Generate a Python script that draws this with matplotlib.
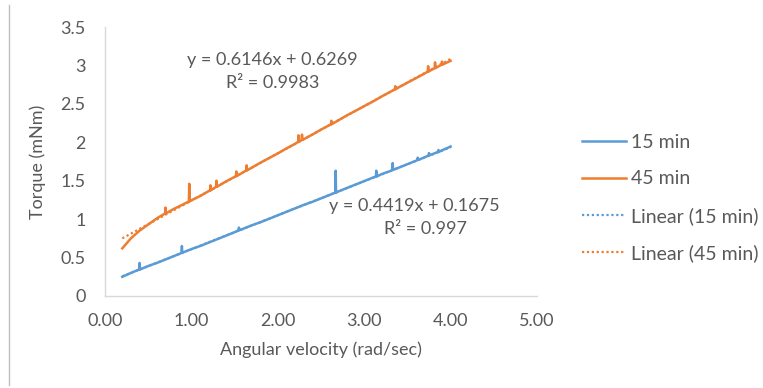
import matplotlib
matplotlib.use("Agg")
import matplotlib.pyplot as plt
from matplotlib.lines import Line2D

# ---- data -------------------------------------------------------------
omega = [0.2, 0.3, 0.4, 0.5, 0.6, 0.7, 0.8, 0.9, 1.0, 1.1, 1.2, 1.3, 1.4,
         1.5, 1.6, 1.7, 1.8, 1.9, 2.0, 2.1, 2.2, 2.3, 2.4, 2.5, 2.6, 2.7,
         2.8, 2.9, 3.0, 3.1, 3.2, 3.3, 3.4, 3.5, 3.6, 3.7, 3.8, 3.9, 4.0]

torque_15 = [0.25, 0.30, 0.345, 0.39, 0.43, 0.475, 0.52, 0.565, 0.61, 0.65,
             0.695, 0.74, 0.785, 0.83, 0.875, 0.92, 0.96, 1.005, 1.05, 1.095,
             1.14, 1.185, 1.225, 1.27, 1.315, 1.36, 1.405, 1.45, 1.495, 1.54,
             1.585, 1.625, 1.67, 1.715, 1.76, 1.805, 1.85, 1.895, 1.945]

torque_45 = [0.62, 0.75, 0.85, 0.93, 1.01, 1.075, 1.135, 1.19, 1.245, 1.30,
             1.365, 1.425, 1.49, 1.55, 1.61, 1.67, 1.735, 1.795, 1.855, 1.92,
             1.98, 2.04, 2.10, 2.165, 2.225, 2.285, 2.35, 2.41, 2.47, 2.53,
             2.595, 2.655, 2.715, 2.775, 2.835, 2.895, 2.955, 3.01, 3.06]

# short transient spikes in the readings: position, level around it, peak
spike_x_15 = [0.40, 0.89, 1.55, 2.67, 3.14, 3.33, 3.62, 3.75, 3.86]
spike_base_15 = [0.345, 0.56, 0.855, 1.345, 1.555, 1.64, 1.77, 1.83, 1.875]
spike_peak_15 = [0.43, 0.65, 0.89, 1.63, 1.63, 1.73, 1.80, 1.86, 1.90]

spike_x_45 = [0.70, 0.975, 1.22, 1.29, 1.52, 1.64, 2.24, 2.28, 2.62,
              3.36, 3.74, 3.82, 3.90]
spike_base_45 = [1.075, 1.23, 1.375, 1.42, 1.56, 1.635, 2.005, 2.03, 2.235,
                 2.69, 2.92, 2.965, 3.01]
spike_peak_45 = [1.15, 1.46, 1.44, 1.50, 1.62, 1.70, 2.09, 2.10, 2.28,
                 2.73, 2.99, 3.04, 3.05]

# linear trendline coefficients
slope_15, intercept_15, r2_15 = 0.4419, 0.1675, 0.997
slope_45, intercept_45, r2_45 = 0.6146, 0.6269, 0.9983
fit_range = [0.2, 4.0]

x_ticks = [0, 1, 2, 3, 4, 5]
y_ticks = [0, 0.5, 1, 1.5, 2, 2.5, 3, 3.5]

# ---- style ------------------------------------------------------------
BLUE = "#5B9BD5"
ORANGE = "#ED7D31"
TEXT = "#595959"
AXIS = "#D9D9D9"
plt.rcParams["font.family"] = ["Lato", "DejaVu Sans"]
FS = 13
FS_LEG = 14


def with_spikes(xs, ys, sx, sb, sp, half=0.004):
    pts = list(zip(xs, ys))
    for x, b, p in zip(sx, sb, sp):
        pts += [(x - half, b), (x, p), (x + half, b)]
    pts.sort()
    return [p[0] for p in pts], [p[1] for p in pts]


fig = plt.figure(figsize=(7.63, 3.88), dpi=100)
ax = fig.add_axes([105 / 763, 1 - 296 / 388, 432 / 763, 269 / 388])

x15, y15 = with_spikes(omega, torque_15, spike_x_15, spike_base_15, spike_peak_15)
x45, y45 = with_spikes(omega, torque_45, spike_x_45, spike_base_45, spike_peak_45)

fx = fit_range
ax.plot(fx, [slope_15 * v + intercept_15 for v in fx], color=BLUE, lw=1.6,
        ls=(0, (1, 1.2)), label="Linear (15 min)", zorder=1)
ax.plot(fx, [slope_45 * v + intercept_45 for v in fx], color=ORANGE, lw=1.6,
        ls=(0, (1, 1.2)), label="Linear (45 min)", zorder=1)

ax.plot(x15, y15, color=BLUE, lw=1.8, label="15 min", zorder=2)
ax.plot(x45, y45, color=ORANGE, lw=1.8, label="45 min", zorder=2)

ax.set_xlim(0, 5)
ax.set_ylim(0, 3.5)
ax.set_xticks(x_ticks)
ax.set_xticklabels([f"{v:.2f}" for v in x_ticks])
ax.set_yticks(y_ticks)
ax.set_yticklabels([f"{v:g}" for v in y_ticks])
ax.tick_params(length=0, labelsize=FS, colors=TEXT)
ax.tick_params(axis="y", pad=14)
ax.tick_params(axis="x", pad=12)
for side in ("top", "right"):
    ax.spines[side].set_visible(False)
for side in ("left", "bottom"):
    ax.spines[side].set_color(AXIS)
    ax.spines[side].set_linewidth(1.0)

ax.set_xlabel("Angular velocity (rad/sec)", fontsize=FS, color=TEXT, labelpad=9)
ax.set_ylabel("Torque (mNm)", fontsize=FS, color=TEXT, labelpad=10)

# trendline equations
ax.annotate(f"y = {slope_45}x + {intercept_45}", xy=(272 / 763, 1 - 60 / 388),
            xycoords="figure fraction", ha="center", va="center", fontsize=FS, color=TEXT)
ax.annotate(f"R² = {r2_45}", xy=(273 / 763, 1 - 83 / 388),
            xycoords="figure fraction", ha="center", va="center", fontsize=FS, color=TEXT)
ax.annotate(f"y = {slope_15}x + {intercept_15}", xy=(414 / 763, 1 - 206 / 388),
            xycoords="figure fraction", ha="center", va="center", fontsize=FS, color=TEXT)
ax.annotate(f"R² = {r2_15}", xy=(425 / 763, 1 - 229 / 388),
            xycoords="figure fraction", ha="center", va="center", fontsize=FS, color=TEXT)

handles, labels = ax.get_legend_handles_labels()
order = [2, 3, 0, 1]
leg = fig.legend([handles[i] for i in order], [labels[i] for i in order],
                 loc="upper left", bbox_to_anchor=(582 / 763, 1 - 134 / 388),
                 frameon=False, fontsize=FS_LEG, handlelength=2.25, handletextpad=0.28,
                 labelspacing=1.0, borderpad=0, borderaxespad=0)
for t in leg.get_texts():
    t.set_color(TEXT)

# chart-area border on the left
fig.add_artist(Line2D([8.5 / 763, 8.5 / 763], [1 - 385 / 388, 1 - 5 / 388],
                      transform=fig.transFigure, color="#BFBFBF", lw=1.0))

fig.savefig("out.png", dpi=100)
